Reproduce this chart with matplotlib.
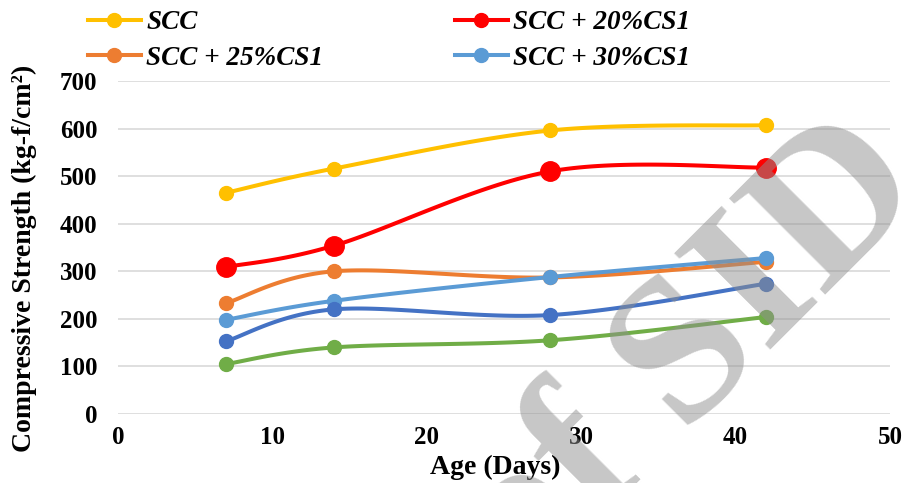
import numpy as np
import matplotlib
matplotlib.use("Agg")
import matplotlib.pyplot as plt

# data
age = [7, 14, 28, 42]
scc = [465, 516, 596, 607]
scc_20 = [309, 354, 510, 518]
scc_25 = [233, 300, 287, 320]
scc_30 = [198, 238, 288, 328]
scc_35 = [153, 220, 208, 274]
scc_40 = [105, 140, 155, 204]

series = [
    ("SCC", scc, "#FFC000", 10),
    ("SCC + 20%CS1", scc_20, "#FF0000", 14),
    ("SCC + 25%CS1", scc_25, "#ED7D31", 10),
    ("SCC + 30%CS1", scc_30, "#5B9BD5", 10),
    ("SCC + 35%CS1", scc_35, "#4472C4", 10),
    ("SCC + 40%CS1", scc_40, "#70AD47", 10),
]
legend_order = ["SCC", "SCC + 25%CS1", "SCC + 20%CS1", "SCC + 30%CS1"]


def smooth(x, y, n=40):
    # excel-like smoothed line (catmull-rom bezier through the points)
    p = np.column_stack([x, y]).astype(float)
    p = np.vstack([p[0], p, p[-1]])
    out = []
    t = np.linspace(0, 1, n)[:, None]
    for i in range(1, len(p) - 2):
        p0, p1, p2, p3 = p[i - 1], p[i], p[i + 1], p[i + 2]
        c1 = p1 + (p2 - p0) / 6.0
        c2 = p2 - (p3 - p1) / 6.0
        seg = ((1 - t) ** 3) * p1 + 3 * ((1 - t) ** 2) * t * c1 + 3 * (1 - t) * t ** 2 * c2 + t ** 3 * p2
        out.append(seg if i == 1 else seg[1:])
    out = np.vstack(out)
    return out[:, 0], out[:, 1]


plt.rcParams['font.family'] = ['Liberation Serif', 'DejaVu Serif']

fig = plt.figure(figsize=(9.05, 4.83), dpi=100)
ax = fig.add_axes([118 / 905, 1 - 414 / 483, 772 / 905, 333 / 483])

handles = {}
for name, vals, col, ms in series:
    sx, sy = smooth(age, vals)
    ax.plot(sx, sy, color=col, lw=2.9, solid_capstyle='round', zorder=3)
    ax.plot(age, vals, 'o', color=col, ms=ms, zorder=4)
    h, = ax.plot([], [], color=col, lw=2.9, marker='o', ms=10)
    handles[name] = h

ax.set_xlim(0, 50)
ax.set_ylim(0, 700)
ax.set_xticks(range(0, 51, 10))
ax.set_yticks(range(0, 701, 100))
ax.yaxis.grid(True, color='#d9d9d9', lw=1.2)
ax.set_axisbelow(True)
for s in ax.spines.values():
    s.set_visible(False)
ax.tick_params(length=0, labelsize=18, pad=15)
ax.tick_params(axis='x', pad=9)
for lab in ax.get_xticklabels() + ax.get_yticklabels():
    lab.set_fontweight('bold')

fig.text(24 / 905, 1 - 258 / 483, "Compressive Strength (kg-f/cm²)", rotation=90,
         ha='center', va='center', fontsize=20, fontweight='bold')
fig.text(495 / 905, 1 - 467 / 483, "Age (Days)", ha='center', va='center',
         fontsize=20, fontweight='bold')

fig.legend([handles[k] for k in legend_order], legend_order, ncol=2,
           loc='upper left', bbox_to_anchor=(88 / 905, 1 - 10 / 483),
           frameon=False, borderpad=0, borderaxespad=0, handlelength=1.95,
           handletextpad=0.2, columnspacing=4.85, labelspacing=0.4,
           prop={'family': 'Liberation Serif', 'weight': 'bold', 'style': 'italic', 'size': 19.5})

# watermark
fig.text(692 / 905, 1 - 358 / 483, "of SID", rotation=45, ha='center', va='center',
         fontsize=150, fontweight='bold', color='#8f8f8f', alpha=0.5, zorder=10)

fig.savefig("out.png", dpi=100)
